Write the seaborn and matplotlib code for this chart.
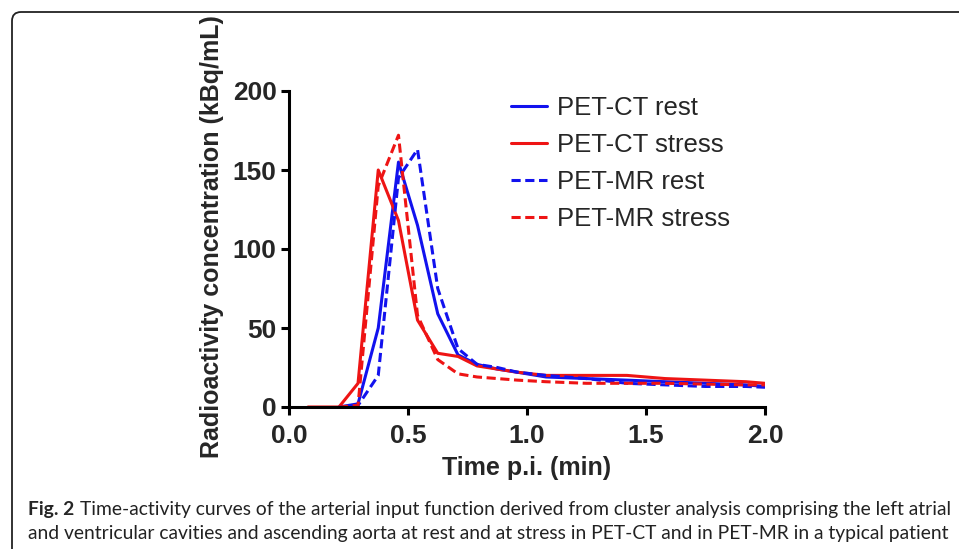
import pandas as pd
import matplotlib.pyplot as plt
import matplotlib.transforms as mtransforms
from matplotlib.patches import FancyBboxPatch
import seaborn as sns

# Values (time in min, activity in kBq/mL)
series_names = ["PET-CT rest", "PET-CT stress", "PET-MR rest", "PET-MR stress"]

ct_rest_t = [0.21, 0.29, 0.375, 0.46, 0.54, 0.625, 0.71, 0.79, 0.875, 0.96, 1.08, 1.25, 1.42, 1.58, 1.75, 1.92, 2.0]
ct_rest_y = [0, 2, 50, 155, 115, 59, 33, 27, 24, 22, 19, 18, 17, 16, 15, 14, 13]

ct_stress_t = [0.08, 0.21, 0.29, 0.375, 0.46, 0.54, 0.625, 0.71, 0.79, 0.875, 0.96, 1.08, 1.25, 1.42, 1.58, 1.75, 1.92, 2.0]
ct_stress_y = [0, 0, 15, 150, 118, 55, 34, 32, 26, 24, 22, 20, 20, 20, 18, 17, 16, 15]

mr_rest_t = [0.21, 0.29, 0.375, 0.46, 0.54, 0.625, 0.71, 0.79, 0.875, 0.96, 1.08, 1.25, 1.42, 1.58, 1.75, 1.92, 2.0]
mr_rest_y = [0, 1, 20, 145, 163, 75, 37, 27, 25, 22, 20, 18, 15, 14, 13, 13, 12.5]

mr_stress_t = [0.21, 0.29, 0.375, 0.46, 0.54, 0.625, 0.71, 0.79, 0.875, 0.96, 1.08, 1.25, 1.42, 1.58, 1.75, 1.92, 2.0]
mr_stress_y = [0, 1, 140, 172, 58, 30, 21, 19, 18, 17, 16, 15, 15, 15, 14.5, 14, 14]

x_ticks = [0.0, 0.5, 1.0, 1.5, 2.0]
y_ticks = [0, 50, 100, 150, 200]

caption_bold = "Fig. 2"
caption_line1 = "Time-activity curves of the arterial input function derived from cluster analysis comprising the left atrial"
caption_line2 = "and ventricular cavities and ascending aorta at rest and at stress in PET-CT and in PET-MR in a typical patient"

# Build one long table for seaborn
frames = []
for name, t, y in zip(series_names,
                      [ct_rest_t, ct_stress_t, mr_rest_t, mr_stress_t],
                      [ct_rest_y, ct_stress_y, mr_rest_y, mr_stress_y]):
    frames.append(pd.DataFrame({"time": t, "activity": y, "series": name}))
df = pd.concat(frames, ignore_index=True)

sns.set_style("ticks")
plt.rcParams["font.family"] = ["Liberation Sans", "DejaVu Sans"]

palette = {"PET-CT rest": "#1212ee", "PET-CT stress": "#ee1414",
           "PET-MR rest": "#1212ee", "PET-MR stress": "#ee1414"}
dashes = {"PET-CT rest": "", "PET-CT stress": "",
          "PET-MR rest": (3, 1.5), "PET-MR stress": (3, 1.5)}

fig = plt.figure(figsize=(9.59, 5.49), dpi=100)
ax = fig.add_axes([289 / 959, 1 - 407 / 549, (765 - 289) / 959, (407 - 91) / 549])

sns.lineplot(data=df, x="time", y="activity", hue="series", style="series",
             hue_order=series_names, style_order=series_names,
             palette=palette, dashes=dashes, linewidth=2.2,
             estimator=None, ax=ax)

ax.set_xlim(0, 2.0)
ax.set_ylim(0, 200)
ax.set_xticks(x_ticks)
ax.set_xticklabels([f"{v:.1f}" for v in x_ticks])
ax.set_yticks(y_ticks)
sns.despine(ax=ax)
for side in ["left", "bottom"]:
    ax.spines[side].set_linewidth(2.2)
    ax.spines[side].set_color("black")
ax.tick_params(axis="both", length=6, width=2.2, color="black",
               labelsize=19, pad=3)
ax.tick_params(axis="x", pad=6)
for lab in ax.get_xticklabels() + ax.get_yticklabels():
    lab.set_fontweight("bold")

ax.set_xlabel("Time p.i. (min)", fontsize=18, fontweight="bold", labelpad=6)
ax.set_ylabel("Radioactivity concentration (kBq/mL)", fontsize=18,
              fontweight="bold")
ax.yaxis.set_label_coords(-0.136, 0.538)

handles, labels = ax.get_legend_handles_labels()
ax.legend(handles, labels, loc="upper left",
          bbox_to_anchor=(511 / 959, 1 - 96 / 549), bbox_transform=fig.transFigure,
          frameon=False, fontsize=18.5, handlelength=1.4, handletextpad=0.4,
          labelspacing=0.5, borderpad=0, borderaxespad=0)

# rounded frame around the whole figure panel
frame = FancyBboxPatch((12, -30), 1000, 549 - 12 + 30,
                       boxstyle="round,pad=0,rounding_size=9",
                       transform=mtransforms.IdentityTransform(),
                       facecolor="none", edgecolor="#222222", linewidth=1.3)
fig.add_artist(frame)

# caption
cap_font = ["Lato", "DejaVu Sans"]
t_bold = fig.text(28 / 959, 1 - 515 / 549, caption_bold, fontsize=13.9,
                  fontweight="bold", family=cap_font, va="baseline")
ax.annotate(caption_line1, xy=(1, 0), xycoords=t_bold, xytext=(4, 0),
            textcoords="offset points", fontsize=13.9, family=cap_font,
            va="bottom", annotation_clip=False, color="#222222")
fig.text(28 / 959, 1 - 539 / 549, caption_line2, fontsize=13.9,
         family=cap_font, va="baseline", color="#222222")

fig.savefig("out.png", dpi=100)
